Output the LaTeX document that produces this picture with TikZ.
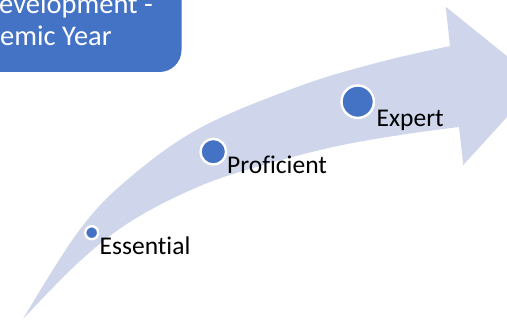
\documentclass[tikz,border=0pt]{standalone}
\usepackage{fontspec}
\setmainfont{Carlito}[Ligatures={NoCommon}]
\definecolor{accblue}{HTML}{4472C4}
\definecolor{bandfill}{HTML}{CFD5EA}
\begin{document}
\begin{tikzpicture}[x=1pt,y=-1pt,
  dot/.style={circle,fill=accblue,draw=white,line width=2.4pt,inner sep=0pt},
  lbl/.style={anchor=base west,inner sep=0pt,text=black,font=\fontsize{25.5}{30}\selectfont},
  boxtxt/.style={anchor=base west,inner sep=0pt,text=white,font=\fontsize{28.5}{34}\selectfont}]
\useasboundingbox (0,0) rectangle (507,320);
\clip (0,0) rectangle (507,320);
% curved arrow
\fill[bandfill] (23,319)
  -- plot[smooth,tension=0.6] coordinates {(23,319) (78,232) (127,180) (200,128) (300,86) (380,62) (450,46)}
  -- (445.7,6.7) -- (539,82) -- (463.3,165) -- (459,127)
  -- plot[smooth,tension=0.6] coordinates {(459,127) (400,135) (333,147) (260,166) (200,186) (133,220) (80,261) (23,319)}
  -- cycle;
% title box
\fill[accblue,rounded corners=22pt] (-40,-40) rectangle (181.5,72);
\node[boxtxt] (t1) at (-1,14) {evelopment -};
\node[boxtxt] (t2) at (0,45.5) {emic Year};
% stages
\node[dot,minimum size=13pt] (d1) at (91.7,232.7) {};
\node[dot,minimum size=25.6pt] (d2) at (213.3,151.7) {};
\node[dot,minimum size=32.4pt] (d3) at (357.7,101.7) {};
\node[lbl] (l1) at (99.5,255) {Essential};
\node[lbl] (l2) at (227,173.3) {Proficient};
\node[lbl] (l3) at (376.5,126.7) {Expert};
\end{tikzpicture}
\end{document}
